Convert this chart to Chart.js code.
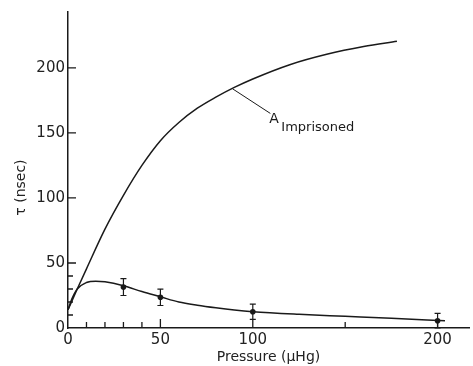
<!DOCTYPE html>
<html>
<head>
<meta charset="utf-8">
<script src="https://cdn.jsdelivr.net/npm/chart.js@4.4.1/dist/chart.umd.min.js"></script>
<style>
    html, body { margin: 0; padding: 0; background: #fff; }
    #wrap { width: 473px; height: 366px; }
</style>
</head>
<body>
<div id="wrap"><canvas id="myChart" width="473" height="366"></canvas></div>
<script>
// measured points with error bars
const pointX = [30, 50, 100, 200];
const pointY = [31.5, 23.6, 12.5, 5.6];
const pointErr = [6.5, 6.3, 5.8, 5.6];

// lower fitted curve
const lowerX = [0, 2, 5, 10, 15, 20, 30, 40, 50, 60, 70, 80, 90, 100, 125, 150, 175, 204];
const lowerY = [14, 22, 30, 35, 36, 35.5, 32.5, 28, 24, 20, 17.5, 15.5, 13.8, 12.5, 10.5, 9, 7.5, 5.5];

// "Imprisoned" curve
const upperX = [0, 5, 10, 20, 30, 40, 50, 60, 70, 80, 90, 100, 120, 140, 160, 178];
const upperY = [14, 30, 45.5, 76, 102, 125, 144, 158, 169, 177.5, 185, 191.5, 202.5, 210.5, 216.5, 220.5];

// axis ticks
const xTickLabels = [0, 50, 100, 200];
const yTickLabels = [0, 50, 100, 150, 200];
const xMinorTicks = [10, 20, 30, 40, 150];
const xMajorTicks = [50, 100, 200];
const yMinorTicks = [10, 20, 30, 40];
const yMajorTicks = [50, 100, 150, 200];

const ink = "#1a1a1a";
const font = "DejaVu Sans";

const toPoints = (xs, ys) => xs.map((x, i) => ({ x: x, y: ys[i] }));

// ticks pointing into the plot, error bars, y title and the curve label
const extras = {
    id: "extras",
    afterDatasetsDraw(chart) {
        const ctx = chart.ctx;
        const x = chart.scales.x;
        const y = chart.scales.y;
        const x0 = x.getPixelForValue(0);
        const y0 = y.getPixelForValue(0);
        ctx.save();
        ctx.strokeStyle = ink;
        ctx.lineWidth = 1.3;
        ctx.beginPath();
        xMinorTicks.forEach(v => { const px = x.getPixelForValue(v); ctx.moveTo(px, y0); ctx.lineTo(px, y0 - 6); });
        xMajorTicks.forEach(v => { const px = x.getPixelForValue(v); ctx.moveTo(px, y0); ctx.lineTo(px, y0 - 9); });
        yMinorTicks.forEach(v => { const py = y.getPixelForValue(v); ctx.moveTo(x0, py); ctx.lineTo(x0 + 5, py); });
        yMajorTicks.forEach(v => { const py = y.getPixelForValue(v); ctx.moveTo(x0, py); ctx.lineTo(x0 + 8, py); });
        ctx.stroke();

        // error bars
        ctx.lineWidth = 1.2;
        ctx.beginPath();
        pointX.forEach((v, i) => {
            const px = x.getPixelForValue(v);
            const top = y.getPixelForValue(pointY[i] + pointErr[i]);
            const bot = y.getPixelForValue(Math.max(0, pointY[i] - pointErr[i]));
            ctx.moveTo(px, top); ctx.lineTo(px, bot);
            ctx.moveTo(px - 3, top); ctx.lineTo(px + 3, top);
            ctx.moveTo(px - 3, bot); ctx.lineTo(px + 3, bot);
        });
        ctx.stroke();

        // leader line and label
        const sx = x.getPixelForValue(89), sy = y.getPixelForValue(184);
        const ex = x.getPixelForValue(109.5), ey = y.getPixelForValue(165);
        ctx.lineWidth = 1;
        ctx.beginPath();
        ctx.moveTo(sx, sy); ctx.lineTo(ex, ey);
        ctx.stroke();
        ctx.fillStyle = ink;
        ctx.textBaseline = "alphabetic";
        ctx.font = "14px '" + font + "'";
        ctx.fillText("A", ex - 1, ey + 10);
        ctx.font = "13px '" + font + "'";
        ctx.fillText("Imprisoned", ex + 11, ey + 18);

        // y axis title, sitting a bit below the middle like the original
        ctx.fillStyle = "#222";
        ctx.font = "14px '" + font + "'";
        ctx.textAlign = "center";
        ctx.textBaseline = "middle";
        ctx.translate(21, y.getPixelForValue(108));
        ctx.rotate(-Math.PI / 2);
        ctx.fillText("τ (nsec)", 0, 0);
        ctx.restore();
    }
};

const ctx = document.getElementById("myChart").getContext("2d");
const myChart = new Chart(ctx, {
    type: "line",
    data: {
        datasets: [
            {
                data: toPoints(upperX, upperY),
                borderColor: ink,
                borderWidth: 1.5,
                pointRadius: 0,
                cubicInterpolationMode: "monotone"
            },
            {
                data: toPoints(lowerX, lowerY),
                borderColor: ink,
                borderWidth: 1.5,
                pointRadius: 0,
                cubicInterpolationMode: "monotone"
            },
            {
                data: toPoints(pointX, pointY),
                showLine: false,
                pointRadius: 2.8,
                pointBackgroundColor: ink,
                pointBorderColor: ink,
                pointBorderWidth: 0
            }
        ]
    },
    options: {
        responsive: false,
        animation: false,
        layout: { padding: { top: 12, left: 0, right: -4, bottom: 0 } },
        plugins: { legend: { display: false }, tooltip: { enabled: false } },
        scales: {
            x: {
                type: "linear",
                min: 0,
                max: 217,
                grid: { display: false, drawTicks: false },
                border: { color: ink, width: 1.5 },
                afterBuildTicks: s => { s.ticks = xTickLabels.map(v => ({ value: v })); },
                afterFit: s => { s.height = 38; },
                ticks: { color: "#222", padding: 3, maxRotation: 0, font: { family: font, size: 15 } },
                title: {
                    display: true,
                    text: "Pressure (μHg)",
                    color: "#222",
                    padding: { top: 0, bottom: 0 },
                    font: { family: font, size: 14 }
                }
            },
            y: {
                min: 0,
                max: 243,
                grid: { display: false, drawTicks: false },
                border: { color: ink, width: 1.5 },
                afterBuildTicks: s => { s.ticks = yTickLabels.map(v => ({ value: v })); },
                afterFit: s => { s.width = 68; },
                ticks: { color: "#222", padding: 3, font: { family: font, size: 15 } }
            }
        }
    },
    plugins: [extras]
});
</script>
</body>
</html>
